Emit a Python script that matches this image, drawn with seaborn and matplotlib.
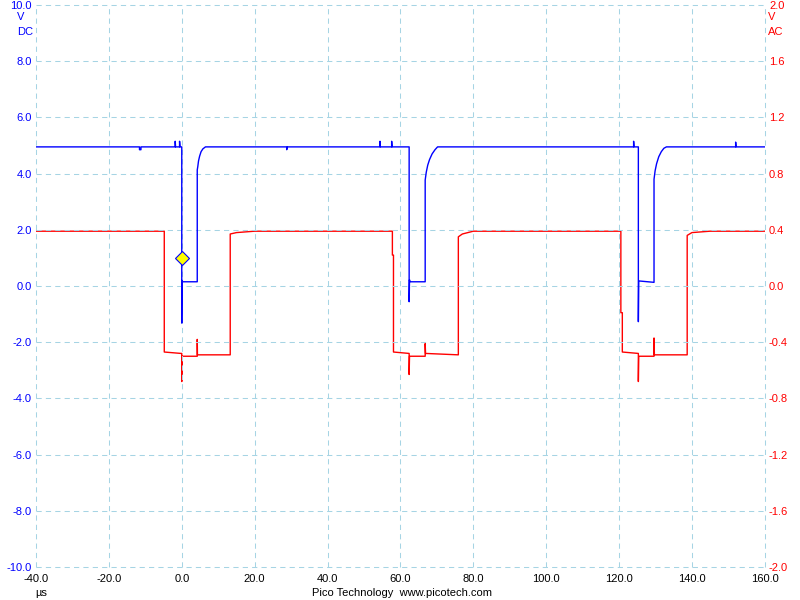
import numpy as np
import pandas as pd
import matplotlib
matplotlib.use("Agg")
import matplotlib.pyplot as plt
from matplotlib.ticker import FormatStrFormatter
import seaborn as sns

# ---- Channel A (DC, volts) breakpoints ----
dc_time = [-40, -11.6, -11.6, -11.2, -11.2, -1.8, -1.8, -1.7, -0.6, -0.6, -0.5, 0.0, 0.0, 0.05, 0.1,
           4.25, 4.25, 4.4, 4.6, 4.9, 5.3, 5.8, 6.5, 28.8, 28.8, 29.0, 54.4, 54.4, 54.5, 57.6, 57.6, 57.7,
           62.4, 62.4, 62.5, 62.6, 66.8, 66.8, 67.1, 67.5, 68.0, 68.7, 69.5, 70.2, 124.0, 124.0, 124.1,
           125.3, 125.3, 125.4, 129.6, 129.6, 129.9, 130.3, 130.9, 131.6, 132.3, 133.0, 152.0, 152.0, 152.1, 160]
dc_volts = [4.95, 4.95, 4.85, 4.85, 4.95, 4.95, 5.15, 4.95, 4.95, 5.15, 4.95, 4.95, -1.32, 0.2, 0.15,
            0.15, 4.13, 4.25, 4.45, 4.62, 4.78, 4.88, 4.95, 4.95, 4.85, 4.95, 4.95, 5.15, 4.95, 4.95, 5.15, 4.95,
            4.95, -0.56, 0.22, 0.15, 0.15, 3.77, 4.05, 4.3, 4.5, 4.7, 4.85, 4.95, 4.95, 5.15, 4.95,
            4.95, -1.27, 0.18, 0.13, 3.8, 4.1, 4.35, 4.6, 4.78, 4.9, 4.95, 4.95, 5.12, 4.95, 4.95]

# ---- Channel B (AC, volts) breakpoints ----
ac_time = [-40, -4.8, -4.8, -0.2, 0.0, 0.0, 0.05, 4.25, 4.25, 4.3, 13.3, 13.3, 15.0, 20.0,
           57.8, 57.8, 58.1, 58.1, 62.4, 62.4, 62.5, 66.8, 66.8, 66.9, 75.9, 75.9, 77.0, 80.0,
           120.5, 120.5, 120.9, 120.9, 125.3, 125.3, 125.4, 129.6, 129.6, 129.7, 138.7, 138.7, 140.0, 145.0, 160]
ac_volts = [0.39, 0.39, -0.47, -0.48, -0.48, -0.68, -0.50, -0.50, -0.38, -0.49, -0.49, 0.37, 0.38, 0.39,
            0.39, 0.22, 0.22, -0.47, -0.48, -0.63, -0.50, -0.50, -0.41, -0.48, -0.49, 0.35, 0.37, 0.39,
            0.39, -0.19, -0.19, -0.47, -0.48, -0.68, -0.50, -0.50, -0.37, -0.49, -0.49, 0.36, 0.38, 0.39, 0.39]

trigger_time = [0.0]
trigger_volts = [1.0]

x_ticks = [-40, -20, 0, 20, 40, 60, 80, 100, 120, 140, 160]
dc_ticks = [-10, -8, -6, -4, -2, 0, 2, 4, 6, 8, 10]
ac_ticks = [-2.0, -1.6, -1.2, -0.8, -0.4, 0.0, 0.4, 0.8, 1.2, 1.6, 2.0]

sns.set_style("white")
plt.rcParams['font.family'] = ['Liberation Sans', 'DejaVu Sans']

fig = plt.figure(figsize=(8, 6), dpi=100)
ax = fig.add_axes([0.045, 0.055, 0.911, 0.9367])
ax2 = ax.twinx()

df_dc = pd.DataFrame({"t": dc_time, "v": dc_volts})
df_ac = pd.DataFrame({"t": ac_time, "v": ac_volts})

grid_color = "#a6d4e4"
ax.set_xlim(-40, 160)
ax.set_ylim(-10, 10)
ax2.set_ylim(-2, 2)
ax.set_xticks(x_ticks)
ax.set_yticks(dc_ticks)
ax2.set_yticks(ac_ticks)
ax.grid(True, color=grid_color, linestyle=(0, (5, 4)), linewidth=0.75)
for gl in ax.get_xgridlines() + ax.get_ygridlines():
    gl.set_clip_on(False)
ax.set_axisbelow(True)

sns.lineplot(data=df_ac, x="t", y="v", ax=ax2, sort=False, estimator=None,
             color="#ff0000", linewidth=1.0)
sns.lineplot(data=df_dc, x="t", y="v", ax=ax, sort=False, estimator=None,
             color="#0000ff", linewidth=1.0)
ax.set_zorder(2)
ax.patch.set_visible(False)
ax2.set_zorder(1)
ax.plot(trigger_time, trigger_volts, marker="D", markersize=7.2, markerfacecolor="#ffff00",
        markeredgecolor="#0000ff", markeredgewidth=0.8, linestyle="none", zorder=5)

for a in (ax, ax2):
    for s in a.spines.values():
        s.set_visible(False)
    a.set_xlabel("")
    a.set_ylabel("")

ax.xaxis.set_major_formatter(FormatStrFormatter('%.1f'))
ax.yaxis.set_major_formatter(FormatStrFormatter('%.1f'))
ax2.yaxis.set_major_formatter(FormatStrFormatter('%.1f'))
ax.tick_params(axis='x', length=0, pad=5, labelsize=8, labelcolor='black')
ax.tick_params(axis='y', length=0, pad=3, labelsize=8, labelcolor='#0000ff')
ax2.tick_params(axis='y', length=0, pad=3, labelsize=8, labelcolor='#ff0000')

fig.text(0.021, 1 - 17 / 600, "V", color="#0000ff", fontsize=8, ha="left", va="center")
fig.text(0.041, 1 - 32 / 600, "DC", color="#0000ff", fontsize=8, ha="right", va="center")
fig.text(0.96, 1 - 17 / 600, "V", color="#ff0000", fontsize=8, ha="left", va="center")
fig.text(0.96, 1 - 32 / 600, "AC", color="#ff0000", fontsize=8, ha="left", va="center")
fig.text(0.044, 1 - 593 / 600, "µs", color="black", fontsize=8, ha="left", va="center")
fig.text(0.502, 1 - 593 / 600, "Pico Technology  www.picotech.com", color="black",
         fontsize=8, ha="center", va="center")

fig.savefig("out.png", dpi=100)
